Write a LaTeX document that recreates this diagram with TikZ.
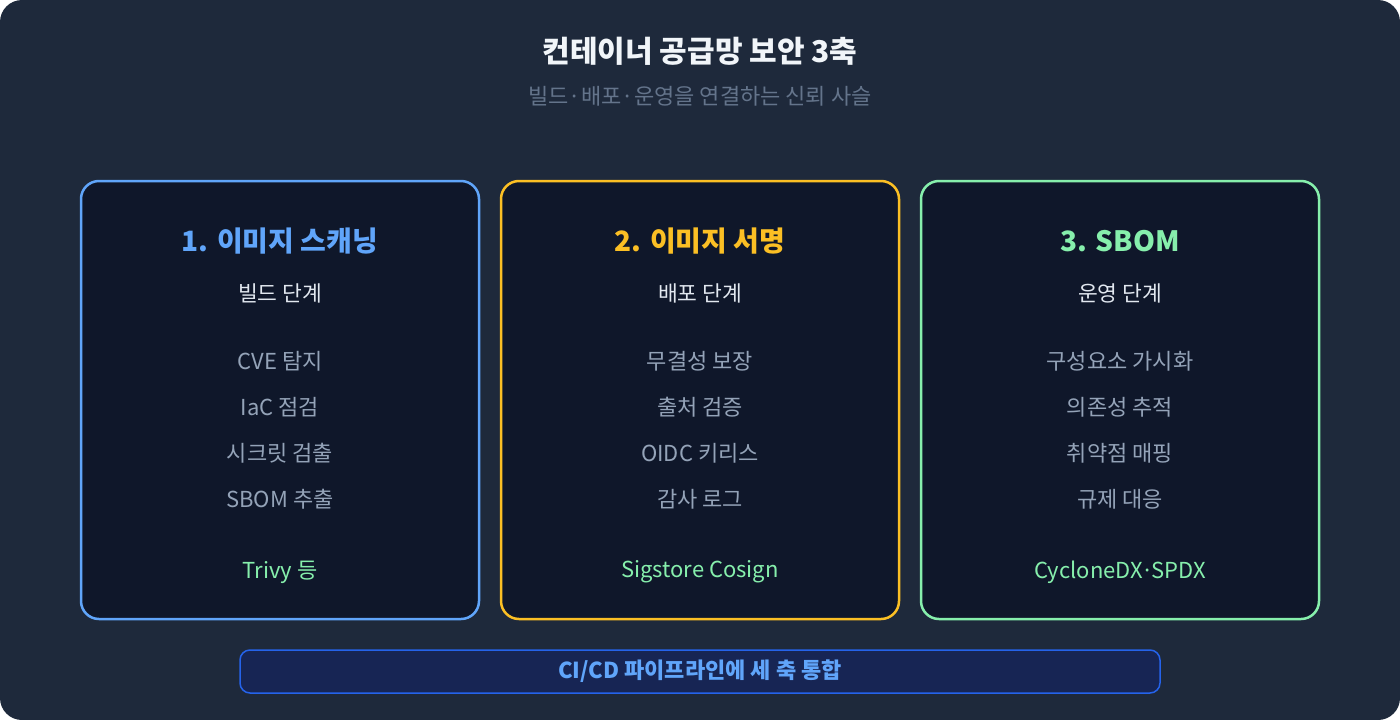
\documentclass[tikz,border=0pt]{standalone}
\usepackage{fontspec}
\setmainfont{Noto Sans CJK KR}
\definecolor{outerbg}{HTML}{1E293B}
\definecolor{boxbg}{HTML}{0F172A}
\definecolor{cblue}{HTML}{60A5FA}
\definecolor{camber}{HTML}{FBBF24}
\definecolor{cgreen}{HTML}{86EFAC}
\definecolor{ctitle}{HTML}{F1F5F9}
\definecolor{csub}{HTML}{64748B}
\definecolor{cphase}{HTML}{E2E8F0}
\definecolor{citem}{HTML}{94A3B8}
\definecolor{barbg}{HTML}{172554}
\definecolor{barline}{HTML}{2563EB}
\newcommand{\fsz}[1]{\fontsize{#1pt}{#1pt}\selectfont}
\newcommand{\tightdot}{\kern-0.09em·\kern-0.09em}
\tikzset{
  x=1pt, y=-1pt,
  card/.style={line width=2.5pt, fill=boxbg, rounded corners=18pt},
  head/.style={font=\fsz{28}\bfseries, anchor=center, inner sep=0pt},
  phase/.style={font=\fsz{21.5}, text=cphase, anchor=center, inner sep=0pt},
  item/.style={font=\fsz{22}, text=citem, anchor=center, inner sep=0pt},
  tool/.style={font=\fsz{22}, text=cgreen, anchor=center, inner sep=0pt},
}
\begin{document}
\begin{tikzpicture}
\useasboundingbox (0,0) rectangle (1400,720);
\fill[white] (0,0) rectangle (1400,720);
\fill[outerbg, rounded corners=22pt] (0,0) rectangle (1400,720);

\node[font=\fsz{30}\bfseries, text=ctitle, inner sep=0pt] (title) at (700,51) {컨테이너 공급망 보안 3축};
\node[font=\fsz{22}, text=csub, inner sep=0pt] (subtitle) at (700,96) {빌드·배포·운영을 연결하는 신뢰 사슬};

% cards
\draw[card, draw=cblue] (81,181) rectangle (479,619);
\draw[card, draw=camber] (501,181) rectangle (899,619);
\draw[card, draw=cgreen] (921,181) rectangle (1319,619);

\node[head, text=cblue] (h1) at (280,241) {1. 이미지 스캐닝};
\node[phase] (p1) at (280,293) {빌드 단계};
\node[item] (i11) at (280,361) {CVE 탐지};
\node[item] (i12) at (280,407) {IaC 점검};
\node[item] (i13) at (280,453) {시크릿 검출};
\node[item] (i14) at (280,499) {SBOM 추출};
\node[tool] (t1) at (280,572) {Trivy 등};

\node[head, text=camber] (h2) at (700,241) {2. 이미지 서명};
\node[phase] (p2) at (700,293) {배포 단계};
\node[item] (i21) at (700,361) {무결성 보장};
\node[item] (i22) at (700,407) {출처 검증};
\node[item] (i23) at (700,453) {OIDC 키리스};
\node[item] (i24) at (700,499) {감사 로그};
\node[tool] (t2) at (700,572) {Sigstore Cosign};

\node[head, text=cgreen] (h3) at (1120,241) {3. SBOM};
\node[phase] (p3) at (1120,293) {운영 단계};
\node[item] (i31) at (1120,361) {구성요소 가시화};
\node[item] (i32) at (1120,407) {의존성 추적};
\node[item] (i33) at (1120,453) {취약점 매핑};
\node[item] (i34) at (1120,499) {규제 대응};
\node[tool] (t3) at (1120,572) {CycloneDX\tightdot SPDX};

% bottom bar
\draw[line width=1.5pt, draw=barline, fill=barbg, rounded corners=10pt] (240,650) rectangle (1160,693);
\node[font=\fsz{22}\bfseries, text=cblue, inner sep=0pt] (bar) at (700,671) {CI/CD 파이프라인에 세 축 통합};
\end{tikzpicture}
\end{document}
